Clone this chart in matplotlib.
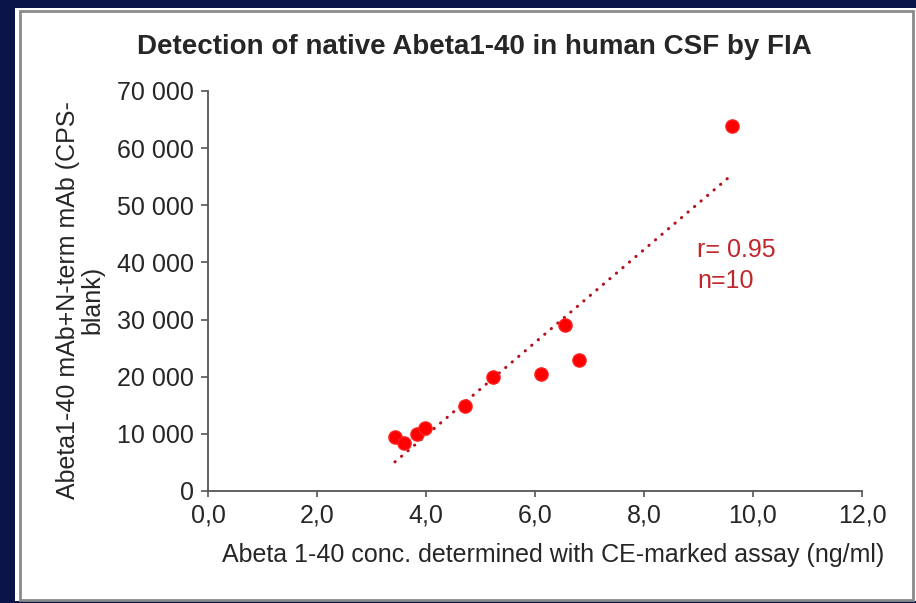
import numpy as np
import matplotlib.pyplot as plt
from matplotlib.patches import Rectangle
from matplotlib.ticker import FuncFormatter

plt.rcParams['font.family'] = ['Liberation Sans', 'DejaVu Sans']

# reference assay concentration (ng/ml) vs FIA signal (CPS - blank)
conc = [3.43, 3.60, 3.83, 3.98, 4.72, 5.23, 6.11, 6.55, 6.81, 9.61]
signal = [9450, 8400, 9975, 11025, 14875, 19950, 20475, 29050, 22925, 63875]
r_text = "r= 0.95"
n_text = "n=10"

W, H = 916, 603
fig = plt.figure(figsize=(W / 100, H / 100), dpi=100)
fig.patch.set_facecolor('#0b1447')

# white slide panel with thin grey frame
fig.patches.append(Rectangle((15 / W, 1 - 601 / H), 901 / W, 593 / H,
                             transform=fig.transFigure, facecolor='white',
                             edgecolor='none', zorder=-2))
fig.patches.append(Rectangle((20 / W, 1 - 600 / H), 893 / W, 589 / H,
                             transform=fig.transFigure, facecolor='none',
                             edgecolor='#8a8a8a', lw=2, zorder=-1))

ax = fig.add_axes([208 / W, 1 - 491 / H, 654 / W, 400 / H])
ax.set_facecolor('none')
ax.set_zorder(2)

x = np.array(conc)
y = np.array(signal)
k, b = np.polyfit(x, y, 1)
xl = np.array([x.min(), x.max()])
ax.plot(xl, k * xl + b, color='#b3121c', lw=2.2, ls=(0, (0.1, 2.7)),
        dash_capstyle='round', zorder=2)
ax.plot(x, y, 'o', color='#ff0000', ms=9.5, mec='#ff2020', zorder=3)

ax.set_xlim(0, 12)
ax.set_ylim(0, 70000)
ax.set_xticks(np.arange(0, 12.1, 2))
ax.set_yticks(np.arange(0, 70001, 10000))
ax.xaxis.set_major_formatter(FuncFormatter(lambda v, p: f"{v:.1f}".replace('.', ',')))
ax.yaxis.set_major_formatter(FuncFormatter(lambda v, p: f"{int(v):,}".replace(',', ' ')))

for s in ['top', 'right']:
    ax.spines[s].set_visible(False)
for s in ['left', 'bottom']:
    ax.spines[s].set_color('#555555')
    ax.spines[s].set_linewidth(1.3)
ax.tick_params(axis='y', direction='out', length=5, width=1.2, color='#555555',
               labelsize=18, labelcolor='#262626', pad=5)
ax.tick_params(axis='x', direction='out', length=4, width=1.2, color='#555555',
               labelsize=18, labelcolor='#262626', pad=5)

ax.text(697, H - 250, r_text, transform=None, color='#c0272d', fontsize=18,
        ha='left', va='center')
ax.text(697, H - 281, n_text, transform=None, color='#c0272d', fontsize=18,
        ha='left', va='center')

fig.text(474 / W, 1 - 47 / H, "Detection of native Abeta1-40 in human CSF by FIA",
         ha='center', va='center', fontsize=20, fontweight='bold', color='#262626')
fig.text(553 / W, 1 - 555 / H, "Abeta 1-40 conc. determined with CE-marked assay (ng/ml)",
         ha='center', va='center', fontsize=18, color='#262626')
fig.text(80 / W, 1 - 300 / H, "Abeta1-40 mAb+N-term mAb (CPS-\nblank)",
         ha='center', va='center', rotation=90, multialignment='center',
         fontsize=18, color='#262626', linespacing=1.0)

fig.savefig('out.png', dpi=100, facecolor=fig.get_facecolor())
